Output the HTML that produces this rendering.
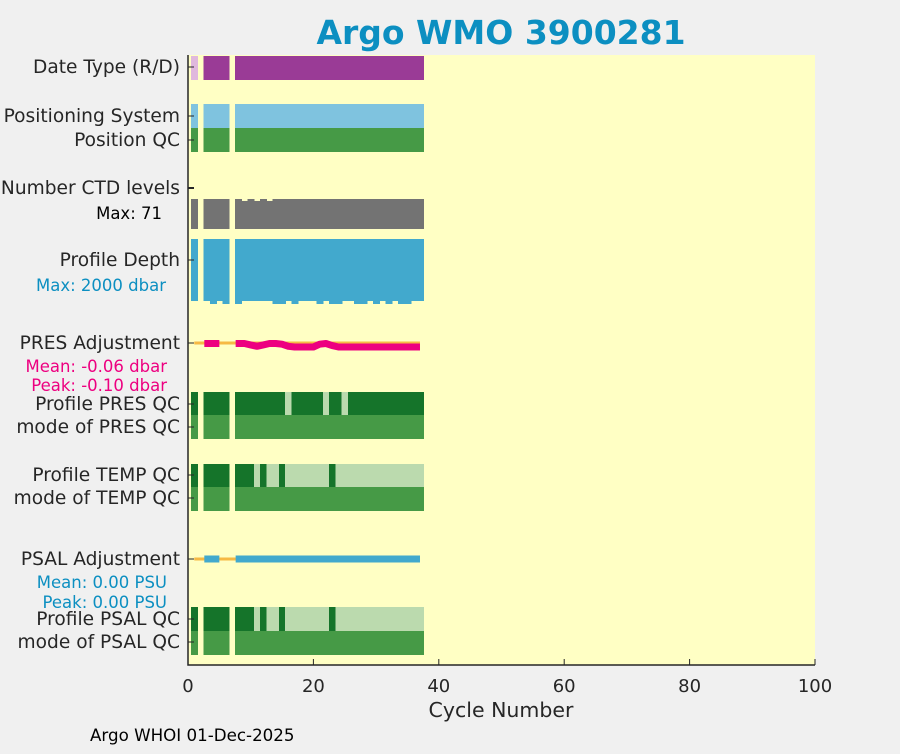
<!DOCTYPE html>
<html><head><meta charset="utf-8"><style>
body{margin:0;background:#f0f0f0;width:900px;height:750px;overflow:hidden;font-family:"DejaVu Sans","Liberation Sans",sans-serif}
</style></head><body>
<svg id="c" width="900" height="750" xmlns="http://www.w3.org/2000/svg"></svg>
<script>
const cycles=[1,3,4,5,6,8,9,10,11,12,13,14,15,16,17,18,19,20,21,22,23,24,25,26,27,28,29,30,31,32,33,34,35,36,37];
const dateTypeLight=[1];
const ctdShort=[9,11,13];
const depthLong=[4,6,8,14,15,17,21,23,24,27,28,30,32,34,35];
const presQcLight=[16,22,25];
const tempQcDark=[1,3,4,5,6,8,9,10,12,15,23];
const psalQcDark=[1,3,4,5,6,8,9,10,12,15,23];
const presAdjCycles=[3,4,5,8,9,10,11,12,13,14,15,16,17,18,19,20,21,22,23,24,25,26,27,28,29,30,31,32,33,34,35,36,37];
const presAdjValues=[-0.05,-0.05,-0.05,-0.05,-0.05,-0.07,-0.09,-0.07,-0.05,-0.05,-0.06,-0.09,-0.1,-0.1,-0.1,-0.1,-0.06,-0.05,-0.08,-0.1,-0.1,-0.1,-0.1,-0.1,-0.1,-0.1,-0.1,-0.1,-0.1,-0.1,-0.1,-0.1,-0.1];
const xTicks=[0,20,40,60,80,100];
const rowLabels=[["Date Type (R/D)",67],["Positioning System",116],["Position QC",140],["Number CTD levels",188],["Profile Depth",260],["PRES Adjustment",343],["Profile PRES QC",404],["mode of PRES QC",427],["Profile TEMP QC",475],["mode of TEMP QC",498],["PSAL Adjustment",559],["Profile PSAL QC",619],["mode of PSAL QC",642]];

const NS="http://www.w3.org/2000/svg";
const svg=document.getElementById('c');
const X0=188,X1=815,Y0=55,Y1=665;
const xs=v=>X0+(X1-X0)*v/100;
function el(tag,attrs,parent){const e=document.createElementNS(NS,tag);for(const k in attrs)e.setAttribute(k,attrs[k]);(parent||svg).appendChild(e);return e;}
function txt(s,x,y,size,fill,anchor,weight){const t=el('text',{x:x,y:y,'font-size':size,fill:fill,'text-anchor':anchor||'end','font-family':'DejaVu Sans, Liberation Sans, sans-serif','font-weight':weight||'normal'});t.textContent=s;return t;}

const bg=el('rect',{x:X0,y:Y0,width:X1-X0,height:Y1-Y0,fill:'#ffffc4'});



function bar(c,y0,y1,fill,name){const r=el('rect',{x:xs(c-0.5),y:y0,width:xs(c+0.5)-xs(c-0.5)+0.8,height:y1-y0,fill:fill,'shape-rendering':'crispEdges'});

}
cycles.forEach(c=>{
 bar(c,56,80,dateTypeLight.includes(c)?'#e0b8dd':'#9a3b96','date-type-bar');
 bar(c,104,128,'#7fc3df','positioning-bar');
 bar(c,128,152,'#469a46','position-qc-bar');
 bar(c,ctdShort.includes(c)?201:199,229,'#737373','ctd-levels-bar');
 bar(c,239,depthLong.includes(c)?304:301,'#42a9cd','profile-depth-bar');
 bar(c,392,415,presQcLight.includes(c)?'#bbdaae':'#15742a','pres-qc-bar');
 bar(c,415,439,'#469a46','pres-mode-qc-bar');
 bar(c,464,487,tempQcDark.includes(c)?'#15742a':'#bbdaae','temp-qc-bar');
 bar(c,487,511,'#469a46','temp-mode-qc-bar');
 bar(c,607,631,psalQcDark.includes(c)?'#15742a':'#bbdaae','psal-qc-bar');
 bar(c,631,655,'#469a46','psal-mode-qc-bar');
});
const z1=el('line',{x1:xs(1),x2:xs(37),y1:343,y2:343,stroke:'#f6b944','stroke-width':3});


const z2=el('line',{x1:xs(1),x2:xs(37),y1:559,y2:559,stroke:'#f6b944','stroke-width':3});


const py=v=>340-v*70;
let segs=[],cur=[];
presAdjCycles.forEach((c,i)=>{if(i>0&&c!==presAdjCycles[i-1]+1){segs.push(cur);cur=[];}cur.push([c,presAdjValues[i]]);});
segs.push(cur);
segs.forEach(s=>{let pts=s.map(p=>xs(p[0])+','+py(p[1]));
 if(s.length===1)pts=[xs(s[0][0]-0.4)+','+py(s[0][1]),xs(s[0][0]+0.4)+','+py(s[0][1])];
 else{pts[0]=xs(s[0][0]-0.4)+','+py(s[0][1]);}
 const l=el('polyline',{points:pts.join(' '),fill:'none',stroke:'#ed0080','stroke-width':7,'stroke-linejoin':'round'});
 
 
});
segs=[];cur=[];
presAdjCycles.forEach((c,i)=>{if(i>0&&c!==presAdjCycles[i-1]+1){segs.push(cur);cur=[];}cur.push(c);});segs.push(cur);
segs.forEach(s=>{const l=el('line',{x1:xs(s[0]-0.4),x2:xs(s[s.length-1]),y1:559,y2:559,stroke:'#42a9cd','stroke-width':7});
 
 
});
const ax=el('path',{d:`M${X0},${Y0} V${Y1} H${X1}`,fill:'none',stroke:'#262626','stroke-width':1.5});


xTicks.forEach(t=>{el('line',{x1:xs(t),x2:xs(t),y1:Y1,y2:Y1-6,stroke:'#262626'});
 const l=txt(String(t),xs(t),692,18,'#262626','middle');
 
 });
rowLabels.forEach(r=>{el('line',{x1:X0,x2:X0+6,y1:r[1],y2:r[1],stroke:'#262626'});
 const l=txt(r[0],180,r[1]+6,18.6,'#262626','end');
 
 });
el('line',{x1:X0,x2:X0+6,y1:188,y2:188,stroke:'#262626','stroke-width':2});
const sub=[["Max: 71",162,219,'#000'],["Max: 2000 dbar",166,291,'#0c8fc1'],["Mean: -0.06 dbar",167,372,'#ed0080'],["Peak: -0.10 dbar",167,391,'#ed0080'],["Mean: 0.00 PSU",167,588,'#0c8fc1'],["Peak: 0.00 PSU",167,608,'#0c8fc1']];
sub.forEach(s=>{const l=txt(s[0],s[1],s[2],16.5,s[3],'end');
 
 });
const t=txt('Argo WMO 3900281',501,44,33,'#0c8fc1','middle','bold');


const xl=txt('Cycle Number',501,717,20.5,'#262626','middle');


const f=txt('Argo WHOI 01-Dec-2025',90,741,16.7,'#000','start');


</script>
</body></html>
